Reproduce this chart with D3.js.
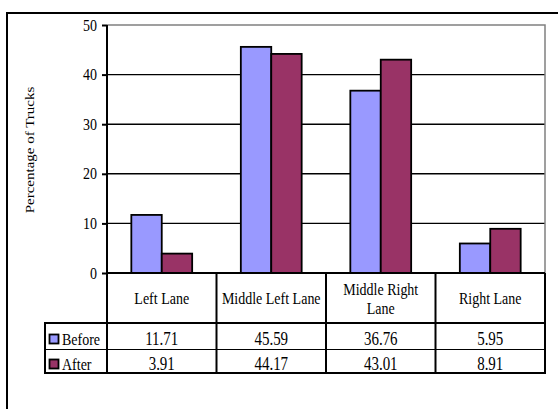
<!DOCTYPE html>
<html>
<head>
<meta charset="utf-8">
<script src="https://cdn.jsdelivr.net/npm/d3@7"></script>
<style>
  html, body { margin: 0; padding: 0; background: #fff; }
  svg { display: block; }
  text { font-family: "Liberation Serif", "Times New Roman", serif; fill: #000; }
</style>
</head>
<body>
<svg id="chart" width="558" height="409"></svg>
<script>
const categories = ["Left Lane", "Middle Left Lane", "Middle Right Lane", "Right Lane"];
const categoryLines = [["Left Lane"], ["Middle Left Lane"], ["Middle Right", "Lane"], ["Right Lane"]];
const seriesNames = ["Before", "After"];
const beforeValues = [11.71, 45.59, 36.76, 5.95];
const afterValues = [3.91, 44.17, 43.01, 8.91];
const seriesColors = ["#9999FF", "#993366"];
const yTicks = [0, 10, 20, 30, 40, 50];
const yLabel = "Percentage of Trucks";

const seriesValues = [beforeValues, afterValues];
const svg = d3.select("#chart");
const STRETCH = 1.2;

const plot = { left: 107, right: 545, top: 25, bottom: 273 };
const table = { left: 45, headerBottom: 323, row1Bottom: 349, bottom: 373 };

function addText(parent, x, y, str, size, anchor) {
  return parent.append("text")
    .attr("transform", `translate(${x},${y}) scale(1,${STRETCH})`)
    .attr("text-anchor", anchor || "middle")
    .attr("font-size", size)
    .text(str);
}

// Outer chart border (only top and left visible)
svg.append("rect").attr("x", 7).attr("y", 13).attr("width", 600).attr("height", 500)
  .attr("fill", "none").attr("stroke", "#000").attr("stroke-width", 2);

const x0 = d3.scaleBand().domain(categories).range([plot.left, plot.right]).paddingInner(0).paddingOuter(0);
const x1 = d3.scaleBand().domain(seriesNames).range([0, x0.bandwidth()]).paddingInner(0).paddingOuter(0.8);
const y = d3.scaleLinear().domain([0, 50]).range([plot.bottom, plot.top]);

// Gridlines
svg.append("g").selectAll("line").data(yTicks.filter(t => t > 0 && t < 50)).join("line")
  .attr("x1", plot.left).attr("x2", plot.right)
  .attr("y1", d => y(d)).attr("y2", d => y(d))
  .attr("stroke", "#000").attr("stroke-width", 1.4);

// Plot area top/right gray border
svg.append("path")
  .attr("d", `M${plot.left},${y(50)}H${plot.right}V${plot.bottom}`)
  .attr("fill", "none").attr("stroke", "#808080").attr("stroke-width", 1.5);

// Bars
const groups = svg.append("g").selectAll("g").data(categories).join("g")
  .attr("transform", d => `translate(${x0(d)},0)`);
groups.selectAll("rect").data((d, i) => seriesNames.map((s, j) => ({ s, j, v: seriesValues[j][i] }))).join("rect")
  .attr("x", d => x1(d.s)).attr("width", x1.bandwidth())
  .attr("y", d => y(d.v)).attr("height", d => y(0) - y(d.v))
  .attr("fill", d => seriesColors[d.j]).attr("stroke", "#000").attr("stroke-width", 1.8);

// Y axis
const yAxis = d3.axisLeft(y).tickValues(yTicks).tickSize(5).tickFormat(d3.format("d"));
const ya = svg.append("g").attr("transform", `translate(${plot.left},0)`).call(yAxis);
ya.select(".domain").remove();
ya.selectAll(".tick line").attr("stroke", "#000").attr("stroke-width", 2);
ya.selectAll(".tick text").remove();
ya.selectAll(".tick").each(function(d) {
  addText(d3.select(this), -10, 5, d3.format("d")(d), 14, "end");
});

// Axis line (extends through header row)
svg.append("line").attr("x1", plot.left).attr("x2", plot.left).attr("y1", plot.top).attr("y2", table.bottom)
  .attr("stroke", "#000").attr("stroke-width", 2);
// Zero line
svg.append("line").attr("x1", plot.left).attr("x2", plot.right).attr("y1", y(0)).attr("y2", y(0))
  .attr("stroke", "#000").attr("stroke-width", 2);

// Y label
svg.append("text").attr("transform", `translate(34,${(plot.top + plot.bottom) / 2 + 1}) rotate(-90) scale(${STRETCH},1)`)
  .attr("text-anchor", "middle").attr("font-size", 12.5).text(yLabel);

// Data table
const tg = svg.append("g");
const bounds = categories.map(c => x0(c)).concat([plot.right]);
tg.selectAll("line.v").data(bounds.slice(1)).join("line").attr("class", "v")
  .attr("x1", d => d).attr("x2", d => d).attr("y1", plot.bottom).attr("y2", table.bottom)
  .attr("stroke", "#000").attr("stroke-width", 2);
tg.append("line").attr("x1", table.left).attr("x2", table.left).attr("y1", table.headerBottom).attr("y2", table.bottom)
  .attr("stroke", "#000").attr("stroke-width", 2);
tg.append("line").attr("x1", table.left - 1).attr("x2", plot.right + 1).attr("y1", table.headerBottom).attr("y2", table.headerBottom)
  .attr("stroke", "#000").attr("stroke-width", 2);
tg.append("line").attr("x1", table.left).attr("x2", plot.right).attr("y1", table.row1Bottom + 0.5).attr("y2", table.row1Bottom + 0.5)
  .attr("stroke", "#000").attr("stroke-width", 1);
tg.append("line").attr("x1", table.left - 1).attr("x2", plot.right + 1).attr("y1", table.bottom).attr("y2", table.bottom)
  .attr("stroke", "#000").attr("stroke-width", 2);

// Category header labels
const headerMid = (plot.bottom + table.headerBottom) / 2;
categories.forEach((c, i) => {
  const lines = categoryLines[i];
  const lh = 19;
  lines.forEach((ln, k) => {
    addText(tg, x0(c) + x0.bandwidth() / 2, headerMid + 6 + (k - (lines.length - 1) / 2) * lh, ln, 14, "middle");
  });
});

// Data rows
const rowBaselines = [345, 370];
seriesNames.forEach((s, j) => {
  tg.append("rect").attr("x", 49.5).attr("y", rowBaselines[j] - 10.5).attr("width", 9).attr("height", 9)
    .attr("fill", seriesColors[j]).attr("stroke", "#000").attr("stroke-width", 1.8);
  addText(tg, 62, rowBaselines[j], s, 14, "start");
  categories.forEach((c, i) => {
    addText(tg, x0(c) + x0.bandwidth() / 2, rowBaselines[j], d3.format(".2f")(seriesValues[j][i]), 15, "middle");
  });
});
</script>
</body>
</html>
